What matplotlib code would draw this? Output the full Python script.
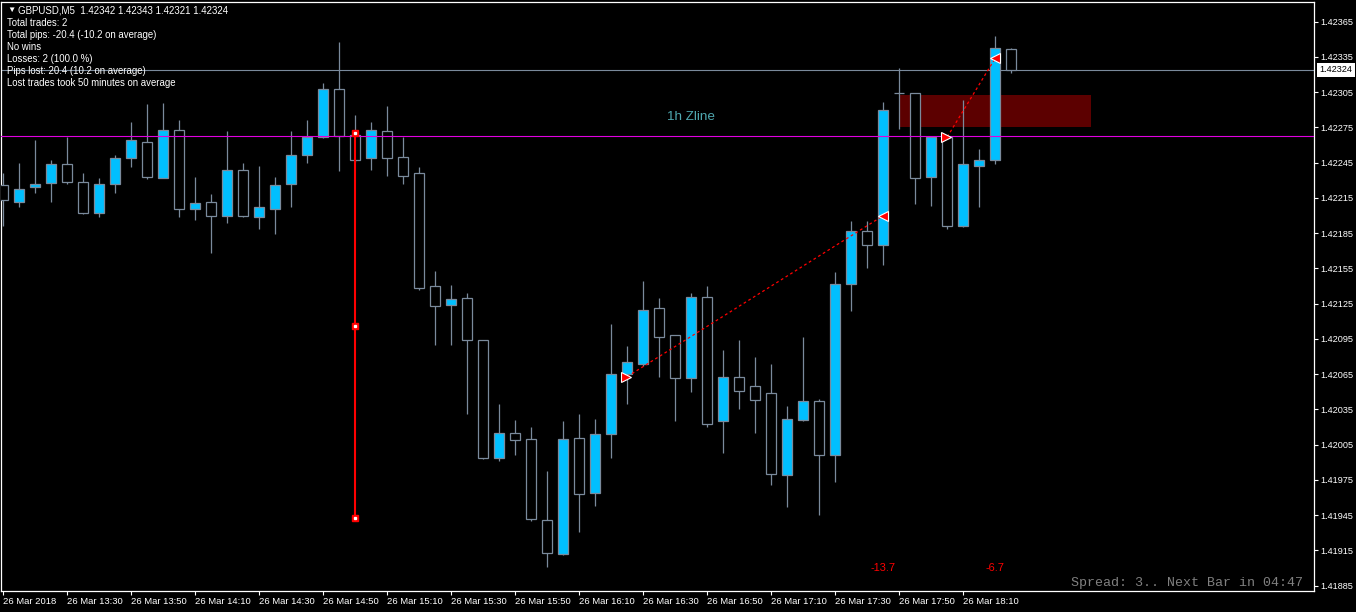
import numpy as np
import matplotlib.pyplot as plt
import matplotlib.transforms as mtransforms
from matplotlib.patches import Rectangle
from matplotlib.ticker import FormatStrFormatter

plt.rcParams['font.family'] = ['Liberation Sans', 'DejaVu Sans']

# GBPUSD M5 candles, 26 Mar 2018 from 13:10
opens = [1.42226, 1.42212, 1.42224, 1.42228, 1.42244, 1.42229, 1.42202, 1.42227,
         1.42249, 1.42263, 1.42232, 1.42273, 1.42206, 1.42212, 1.42200, 1.42239,
         1.42199, 1.42206, 1.42227, 1.42252, 1.42267, 1.42308, 1.42269, 1.42249,
         1.42272, 1.42250, 1.42236, 1.42140, 1.42124, 1.42130, 1.42094, 1.41994,
         1.42015, 1.42010, 1.41941, 1.41912, 1.42011, 1.41964, 1.42014, 1.42065,
         1.42074, 1.42121, 1.42098, 1.42062, 1.42131, 1.42025, 1.42063, 1.42055,
         1.42049, 1.41979, 1.42026, 1.42042, 1.41996, 1.42142, 1.42187, 1.42175,
         1.42304, 1.42304, 1.42233, 1.42267, 1.42191, 1.42242, 1.42247, 1.42342]
highs = [1.42236, 1.42245, 1.42264, 1.42247, 1.42267, 1.42236, 1.42232, 1.42252,
         1.42280, 1.42295, 1.42296, 1.42281, 1.42233, 1.42218, 1.42272, 1.42245,
         1.42242, 1.42233, 1.42272, 1.42281, 1.42313, 1.42348, 1.42286, 1.42280,
         1.42293, 1.42267, 1.42241, 1.42153, 1.42141, 1.42134, 1.42094, 1.42040,
         1.42026, 1.42020, 1.41983, 1.42025, 1.42031, 1.42027, 1.42108, 1.42089,
         1.42144, 1.42130, 1.42098, 1.42134, 1.42140, 1.42086, 1.42094, 1.42080,
         1.42074, 1.42038, 1.42097, 1.42044, 1.42152, 1.42195, 1.42195, 1.42297,
         1.42326, 1.42304, 1.42267, 1.42268, 1.42298, 1.42257, 1.42353, 1.42343]
lows = [1.42191, 1.42207, 1.42219, 1.42212, 1.42227, 1.42201, 1.42199, 1.42219,
        1.42241, 1.42231, 1.42232, 1.42199, 1.42196, 1.42168, 1.42194, 1.42199,
        1.42189, 1.42184, 1.42207, 1.42245, 1.42266, 1.42238, 1.42246, 1.42239,
        1.42234, 1.42227, 1.42137, 1.42090, 1.42090, 1.42031, 1.41993, 1.41991,
        1.41996, 1.41940, 1.41901, 1.41911, 1.41931, 1.41953, 1.41994, 1.42040,
        1.42072, 1.42063, 1.42025, 1.42050, 1.42020, 1.41998, 1.42035, 1.42015,
        1.41971, 1.41952, 1.42025, 1.41945, 1.41973, 1.42119, 1.42155, 1.42158,
        1.42274, 1.42210, 1.42208, 1.42189, 1.42190, 1.42207, 1.42244, 1.42321]
closes = [1.42213, 1.42223, 1.42227, 1.42244, 1.42229, 1.42202, 1.42227, 1.42249,
          1.42264, 1.42233, 1.42273, 1.42206, 1.42211, 1.42200, 1.42239, 1.42200,
          1.42207, 1.42226, 1.42252, 1.42267, 1.42308, 1.42268, 1.42247, 1.42273,
          1.42249, 1.42234, 1.42138, 1.42123, 1.42129, 1.42094, 1.41994, 1.42015,
          1.42009, 1.41942, 1.41913, 1.42010, 1.41963, 1.42014, 1.42065, 1.42075,
          1.42120, 1.42097, 1.42062, 1.42131, 1.42023, 1.42063, 1.42051, 1.42043,
          1.41980, 1.42027, 1.42042, 1.41996, 1.42142, 1.42187, 1.42175, 1.42290,
          1.42304, 1.42232, 1.42267, 1.42191, 1.42244, 1.42247, 1.42343, 1.42324]

tick_pos = list(range(0, 64, 4))
tick_labels = ['26 Mar 2018', '26 Mar 13:30', '26 Mar 13:50', '26 Mar 14:10',
               '26 Mar 14:30', '26 Mar 14:50', '26 Mar 15:10', '26 Mar 15:30',
               '26 Mar 15:50', '26 Mar 16:10', '26 Mar 16:30', '26 Mar 16:50',
               '26 Mar 17:10', '26 Mar 17:30', '26 Mar 17:50', '26 Mar 18:10']

zline_level = 1.42268
zline_label = '1h Zline'
zone_x = [56, 68]
zone_y = [1.42275, 1.42303]
vline_idx = 22
vline_prices = [1.42270, 1.42106, 1.41943]

entry_idx = [39, 59]
entry_price = [1.42063, 1.42267]
exit_idx = [55, 62]
exit_price = [1.42200, 1.42334]
trade_pips = [-13.7, -6.7]

header = 'GBPUSD,M5  1.42342 1.42343 1.42321 1.42324'
info_lines = ['Total trades: 2',
              'Total pips: -20.4 (-10.2 on average)',
              'No wins',
              'Losses: 2 (100.0 %)',
              'Pips lost: 20.4 (10.2 on average)',
              'Lost trades took 50 minutes on average']
spread_text = 'Spread: 3.. Next Bar in 04:47'


def main():
    W, H = 1356, 612
    fig = plt.figure(figsize=(W / 100, H / 100), dpi=100, facecolor='black')
    ax = fig.add_axes([1 / W, 21 / H, 1312.5 / W, 589 / H], facecolor='black')

    edge = '#7a8a9c'
    x = np.arange(len(opens))
    o = np.array(opens)
    c = np.array(closes)
    fills = ['#00bfff' if cc > oo else 'black' for oo, cc in zip(o, c)]

    # zone rectangle behind everything
    ax.add_patch(Rectangle((zone_x[0], zone_y[0]), zone_x[1] - zone_x[0],
                           zone_y[1] - zone_y[0], facecolor='#5c0000',
                           edgecolor='none', zorder=0.5))
    # current price line
    ax.axhline(closes[-1], color='#7a8a9c', lw=0.8, zorder=1)

    ax.vlines(x, lows, highs, color=edge, lw=0.9, zorder=2)
    ax.bar(x, np.abs(c - o), width=0.62, bottom=np.minimum(o, c), color=fills,
           edgecolor=edge, linewidth=0.9, zorder=3)

    # zline
    ax.axhline(zline_level, color='#e000e0', lw=0.8, zorder=4)
    ax.text(43, zline_level + 0.00016, zline_label, color='#4fa8b0',
            fontsize=9.7, ha='center', va='center', zorder=6)

    # vertical red line with square handles
    ax.plot([vline_idx, vline_idx], [vline_prices[0], vline_prices[-1]],
            color='red', lw=1.5, zorder=5)
    ax.plot([vline_idx] * 3, vline_prices, ls='none', marker='s', ms=4.5,
            color='red', zorder=6)
    ax.plot([vline_idx] * 3, vline_prices, ls='none', marker='s', ms=1.4,
            color='white', zorder=7)

    # trades
    blend = mtransforms.blended_transform_factory(ax.transData, ax.transAxes)
    for ei, ep, xi, xp, pips in zip(entry_idx, entry_price, exit_idx, exit_price, trade_pips):
        ax.plot([ei, xi], [ep, xp], color='red', lw=0.9, ls=(0, (2.2, 2.2)), zorder=5)
        ax.plot([ei - 0.1], [ep], marker='>', ms=7, color='red', mec='white', mew=0.8, zorder=6)
        ax.plot([xi], [xp], marker='<', ms=7, color='red', mec='white', mew=0.8, zorder=6)
        ax.text(xi, 0.039, f'{pips:.1f}', transform=blend, color='red',
                fontsize=7.9, ha='center', va='center')

    ax.text(0.992, 0.0136, spread_text, transform=ax.transAxes, color='#808080',
            fontsize=9.6, family='Liberation Mono', ha='right', va='center')

    ax.set_xlim(-0.144, 81.89)
    ax.set_ylim(1.418805, 1.423818)

    ax.set_xticks(tick_pos)
    ax.set_xticklabels(tick_labels, ha='left')
    ax.yaxis.tick_right()
    ax.set_yticks(np.arange(1.41885, 1.42366, 0.0003))
    ax.yaxis.set_major_formatter(FormatStrFormatter('%.5f'))
    ax.tick_params(axis='x', colors='white', length=3, width=0.8, labelsize=6.8, pad=1.5)
    ax.tick_params(axis='y', colors='white', length=3, width=0.8, labelsize=6.6, pad=2)
    for s in ax.spines.values():
        s.set_color('white')
        s.set_linewidth(0.9)

    # current price box on the right axis
    yblend = mtransforms.blended_transform_factory(ax.transAxes, ax.transData)
    ax.text(1.0045, closes[-1], f'{closes[-1]:.5f}', transform=yblend, fontsize=6.6,
            color='black', ha='left', va='center', clip_on=False,
            bbox=dict(boxstyle='square,pad=0.3', fc='white', ec='none'))

    # info block top left
    fig.text(7 / W, 1 - 10.5 / H, '\u25bc', color='white', fontsize=6,
             va='center', ha='left')
    fig.text(18 / W, 1 - 10.5 / H, header, color='white', fontsize=7, va='center', ha='left')
    for i, line in enumerate(info_lines):
        fig.text(7 / W, 1 - (23.5 + 12 * i) / H, line, color='white', fontsize=6.9,
                 va='center', ha='left')

    fig.savefig('out.png', dpi=100, facecolor='black')


if __name__ == "__main__":
    main()
